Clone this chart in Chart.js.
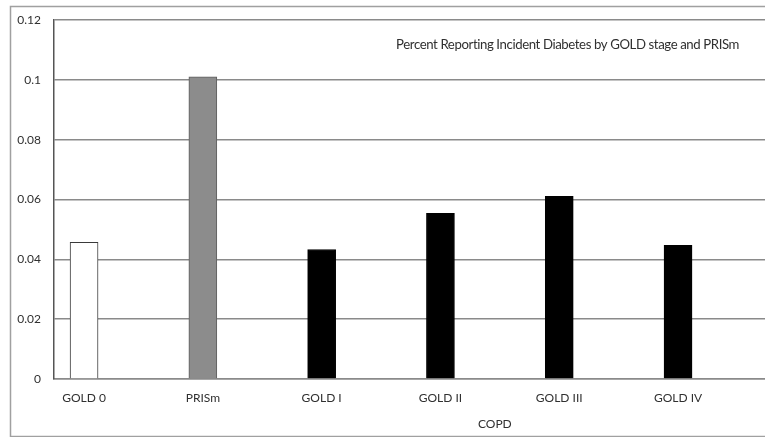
<!DOCTYPE html>
<html>
<head>
<meta charset="utf-8">
<script src="https://cdn.jsdelivr.net/npm/chart.js@4"></script>
<style>
  html, body { margin: 0; padding: 0; background: #ffffff; }
  #wrap { width: 765px; height: 437px; position: relative; }
</style>
</head>
<body>
<div id="wrap"><canvas id="chart" width="765" height="437"></canvas></div>
<script>
// Incident diabetes by spirometric group
const categories = ['GOLD 0', 'PRISm', 'GOLD I', 'GOLD II', 'GOLD III', 'GOLD IV'];
const percentReporting = [0.0457, 0.1011, 0.0433, 0.0554, 0.0611, 0.0447];
const yTicks = [0, 0.02, 0.04, 0.06, 0.08, 0.1, 0.12];
const groupLabel = 'COPD';
const groupMembers = ['GOLD I', 'GOLD II', 'GOLD III', 'GOLD IV'];
const chartTitle = 'Percent Reporting Incident Diabetes by GOLD stage and PRISm';

const fillColors = ['#ffffff', '#8c8c8c', '#000000', '#000000', '#000000', '#000000'];
const edgeColors = ['#3a3a3a', '#5e5e5e', '#000000', '#000000', '#000000', '#000000'];

const FONT = 'Lato, "Liberation Sans", sans-serif';
const TEXT = '#303030';

// frame around the whole figure, plus in-plot title and group label
const decorations = {
  id: 'decorations',
  beforeDraw(chart) {
    const ctx = chart.ctx;
    ctx.save();
    ctx.fillStyle = '#ffffff';
    ctx.fillRect(0, 0, chart.width, chart.height);
    ctx.strokeStyle = '#a0a0a0';
    ctx.lineWidth = 1.5;
    ctx.strokeRect(10.5, 6.5, chart.width + 20, chart.height - 7);
    ctx.restore();
  },
  afterDraw(chart) {
    const ctx = chart.ctx;
    const x = chart.scales.x;
    ctx.save();
    ctx.fillStyle = TEXT;
    ctx.font = '13.2px ' + FONT;
    if ('letterSpacing' in ctx) ctx.letterSpacing = '-0.4px';
    ctx.textAlign = 'right';
    ctx.textBaseline = 'middle';
    ctx.fillText(chartTitle, 739, 45);
    if ('letterSpacing' in ctx) ctx.letterSpacing = '0px';

    const first = categories.indexOf(groupMembers[0]);
    const last = categories.indexOf(groupMembers[groupMembers.length - 1]);
    const cx = (x.getPixelForValue(first) + x.getPixelForValue(last)) / 2 - 5;
    ctx.font = '12px ' + FONT;
    ctx.textAlign = 'center';
    ctx.fillText(groupLabel, cx, 424);
    ctx.restore();
  }
};

new Chart(document.getElementById('chart'), {
  type: 'bar',
  data: {
    datasets: [{
      label: 'Percent reporting incident diabetes',
      data: categories.map((c, i) => ({ x: i, y: percentReporting[i] })),
      backgroundColor: fillColors,
      borderColor: edgeColors,
      borderWidth: 1,
      barThickness: 28
    }]
  },
  options: {
    responsive: false,
    animation: false,
    layout: { padding: { top: 19, right: 0, left: 0, bottom: 0 } },
    plugins: {
      legend: { display: false },
      title: { display: false },
      tooltip: { enabled: false }
    },
    scales: {
      x: {
        type: 'linear',
        offset: false,
        min: -0.253,
        max: 5.732,
        afterBuildTicks: s => { s.ticks = categories.map((c, i) => ({ value: i })); },
        afterFit: s => { s.height = 58; s.paddingLeft = 0; s.paddingRight = 0; },
        ticks: {
          autoSkip: false,
          maxRotation: 0,
          padding: 12,
          color: TEXT,
          font: { family: FONT, size: 12 },
          callback: v => categories[v]
        },
        grid: { display: false, drawTicks: false },
        border: { display: true, color: '#8a8a8a', width: 1.5 }
      },
      y: {
        min: 0,
        max: 0.12,
        afterBuildTicks: s => { s.ticks = yTicks.map(v => ({ value: v })); },
        afterFit: s => { s.width = 54; },
        ticks: {
          padding: 13,
          color: TEXT,
          font: { family: FONT, size: 12 },
          callback: v => String(Number(v.toFixed(2)))
        },
        grid: { color: '#8a8a8a', lineWidth: 1.5, drawTicks: false },
        border: { display: true, color: '#555555', width: 1.5 }
      }
    }
  },
  plugins: [decorations]
});
</script>
</body>
</html>
